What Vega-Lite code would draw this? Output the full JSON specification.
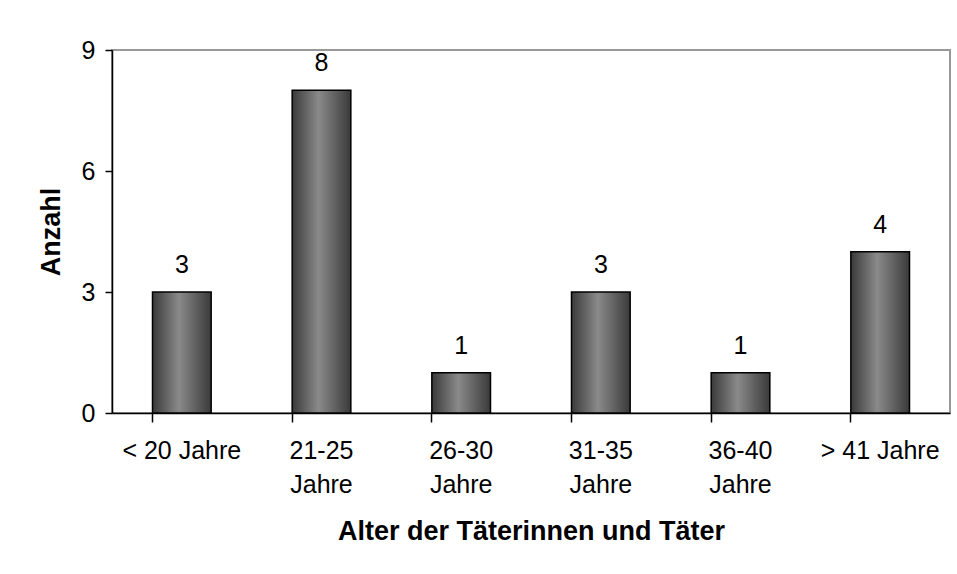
{
  "$schema": "https://vega.github.io/schema/vega-lite/v6.json",
  "width": 838,
  "height": 363,
  "autosize": {"type": "none"},
  "padding": {"left": 112, "top": 50, "right": 7, "bottom": 161},
  "background": "white",
  "config": {
    "font": "Liberation Sans",
    "view": {"stroke": "#999999", "strokeWidth": 2},
    "axis": {"grid": false, "labelFont": "Liberation Sans", "titleFont": "Liberation Sans", "labelColor": "black", "titleColor": "black", "domainColor": "black", "tickColor": "black"}
  },
  "data": {
    "values": [
      {"Alter": "< 20 Jahre", "Anzahl": 3},
      {"Alter": "21-25 Jahre", "Anzahl": 8},
      {"Alter": "26-30 Jahre", "Anzahl": 1},
      {"Alter": "31-35 Jahre", "Anzahl": 3},
      {"Alter": "36-40 Jahre", "Anzahl": 1},
      {"Alter": "> 41 Jahre", "Anzahl": 4}
    ]
  },
  "encoding": {
    "x": {
      "field": "Alter", "type": "nominal", "sort": null,
      "scale": {"paddingInner": 0.58, "paddingOuter": 0.29},
      "axis": {
        "title": "Alter der Täterinnen und Täter",
        "titleFontSize": 27, "titleFontWeight": "bold", "titlePadding": 21,
        "labelFontSize": 25, "labelAngle": 0, "labelPadding": 16, "labelLineHeight": 34,
        "labelExpr": "datum.label == '< 20 Jahre' || datum.label == '> 41 Jahre' ? datum.label : split(datum.label, ' ')",
        "bandPosition": 0, "tickSize": 9, "domainWidth": 1.5, "tickWidth": 1.5
      }
    },
    "y": {
      "field": "Anzahl", "type": "quantitative",
      "scale": {"domain": [0, 9], "nice": false},
      "axis": {
        "values": [0, 3, 6, 9], "title": "Anzahl",
        "titleFontSize": 27, "titleFontWeight": "bold", "titlePadding": 16,
        "labelFontSize": 25, "labelPadding": 10, "tickSize": 7, "domainWidth": 1.5, "tickWidth": 1.5
      }
    }
  },
  "layer": [
    {
      "mark": {
        "type": "bar",
        "stroke": "black",
        "strokeWidth": 1.5,
        "fill": {
          "gradient": "linear", "x1": 0, "y1": 0, "x2": 1, "y2": 0,
          "stops": [
            {"offset": 0, "color": "#3a3a3a"},
            {"offset": 0.45, "color": "#8a8a8a"},
            {"offset": 1, "color": "#3a3a3a"}
          ]
        }
      }
    },
    {
      "mark": {"type": "text", "dy": -19, "fontSize": 25, "color": "black", "baseline": "alphabetic"},
      "encoding": {"text": {"field": "Anzahl", "type": "quantitative"}}
    }
  ]
}
